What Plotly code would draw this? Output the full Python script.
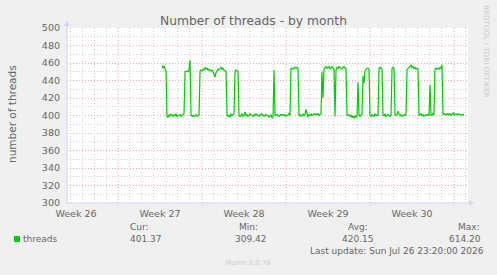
import plotly.graph_objects as go

# ---------------- data ----------------
week_labels = ["Week 26", "Week 27", "Week 28", "Week 29", "Week 30"]
week_label_day = [0.75, 7.75, 14.75, 21.75, 28.75]      # centre of each week (days from left edge)
week_start_day = [4.25, 11.25, 18.25, 25.25, 32.25]     # week boundaries
axis_days = 33.42
y_ticks = [300, 320, 340, 360, 380, 400, 420, 440, 460, 480, 500]

start_day = 7.92          # first sample
step_hours = 2.0          # RRD month resolution

threads = (
    [457, 454, 457, 452, 450]
    + [399, 398, 401, 399, 402, 400, 399, 401, 400, 402, 399, 400, 400, 401, 399, 400, 401, 402]
    + [450, 451, 451, 450, 452, 463]
    + [401, 399, 400, 399, 400, 401, 399, 400, 401]
    + [450, 452, 451, 453, 452, 455, 453, 454, 452, 453, 451, 452, 452, 450, 447, 444, 449, 451,
       453, 452, 454, 455, 453, 454, 452, 451, 450]
    + [401, 399, 400, 398, 402, 400, 401, 402]
    + [450, 452, 451, 450]
    + [400, 399, 400, 402, 399, 400, 404, 400, 401, 399, 400, 402, 401, 400, 399, 401, 400, 402,
       401, 400, 399, 401, 400, 402, 400, 399, 400, 401, 400, 400, 398, 400, 401, 397]
    + [399, 452, 401]
    + [400, 401, 400, 399, 400, 401, 400, 401, 400, 401, 399, 400, 401, 402, 400]
    + [454, 454, 453, 454, 455, 454, 455, 454]
    + [400, 401, 399, 400, 402, 400, 401, 407, 401, 398, 401, 400, 402, 400, 401, 402, 401, 402,
       401, 402, 400, 401, 402]
    + [450, 420, 453, 455, 456, 454, 455, 456, 453, 455, 456, 454, 453]
    + [399]
    + [452, 455, 454, 456, 455, 454, 453, 455, 456, 454, 454]
    + [401, 400, 401, 399, 400, 398, 399, 397, 400, 398, 399]
    + [438]
    + [401, 399, 400, 401]
    + [445, 437, 451, 453, 454, 454, 453]
    + [400, 399, 401, 400, 399, 402, 400, 401, 400]
    + [454, 455, 454, 453]
    + [401, 400, 402, 399, 400, 401, 400, 399, 400]
    + [454, 455, 454]
    + [401, 400, 401, 405, 402, 400, 401, 399, 400, 401, 400, 401]
    + [452, 454, 455, 456, 458, 455, 456, 454, 455, 453, 454, 453]
    + [400, 401, 402, 400, 401, 399, 400, 401, 400, 401, 400]
    + [435]
    + [401, 400, 403, 401]
    + [453, 454, 453, 454, 453, 455, 454, 458]
    + [401, 402, 401, 402, 401, 402, 401, 402, 400, 401, 403, 401, 402, 401, 402, 401, 402, 401,
       400, 401, 401, 401]
)

legend_name = "threads"
stats_labels = ["Cur:", "Min:", "Avg:", "Max:"]
stats_values = ["401.37", "309.42", "420.15", "614.20"]
title = "Number of threads - by month"
y_title = "number of threads"
last_update = "Last update: Sun Jul 26 23:20:00 2026"
footer = "Munin 2.0.76"
watermark = "RRDTOOL / TOBI OETIKER"

# ---------------- styling / layout ----------------
W, H = 497, 275
L, R, T, B = 67, 468, 28, 203
FONT = "DejaVu Sans"
TXT = "#666666"
AXIS = "#CFD6F8"
GREEN = "#00CC00"
MGRID = "#EBA6A6"
GRID = "#CFCFCF"
DASH = "1px,2px"


def px(x):
    return (x - L) / (R - L)


def py(y):
    return (B - y) / (B - T)


days = [start_day + i * step_hours / 24.0 for i in range(len(threads))]

fig = go.Figure()
fig.add_trace(go.Scatter(x=days, y=threads, mode="lines",
                         line=dict(color=GREEN, width=1.2), hoverinfo="skip"))

minor_days = [d + 0.25 for d in range(0, 34) if (d + 0.25) not in week_start_day and d + 0.25 < axis_days]

fig.update_layout(
    width=W, height=H, autosize=False,
    margin=dict(l=L, r=W - R, t=T, b=H - B, pad=0),
    paper_bgcolor="#F0F0F0", plot_bgcolor="#FFFFFF",
    showlegend=False,
    font=dict(family=FONT, size=9, color=TXT),
    xaxis=dict(range=[0, axis_days], tickmode="array", tickvals=week_label_day, ticktext=week_labels,
               showgrid=False, zeroline=False, showline=False, ticks="", ticklabelstandoff=3,
               tickfont=dict(size=9.5, color=TXT),
               minor=dict(tickmode="array", tickvals=minor_days, showgrid=True,
                          gridcolor=GRID, griddash=DASH, gridwidth=1, ticks="")),
    yaxis=dict(range=[300, 500], tickmode="array", tickvals=y_ticks, ticktext=[str(v) for v in y_ticks],
               showgrid=True, gridcolor=MGRID, griddash=DASH, gridwidth=1,
               zeroline=False, showline=False, ticks="", ticklabelstandoff=6,
               tickfont=dict(size=9.5, color=TXT),
               minor=dict(dtick=10, tick0=300, showgrid=True, gridcolor=GRID, griddash=DASH,
                          gridwidth=1, ticks="")),
)

shapes = []
for d in week_start_day:
    shapes.append(dict(type="line", xref="x", yref="paper", x0=d, x1=d, y0=-3 / (B - T), y1=1,
                       line=dict(color=MGRID, width=1, dash=DASH), layer="below"))
# axes with arrows
shapes.append(dict(type="line", xref="paper", yref="paper", x0=px(L), x1=px(471), y0=0, y1=0,
                   line=dict(color=AXIS, width=1)))
shapes.append(dict(type="line", xref="paper", yref="paper", x0=0, x1=0, y0=0, y1=py(24),
                   line=dict(color=AXIS, width=1)))
shapes.append(dict(type="path", xref="paper", yref="paper",
                   path=f"M {px(469)},{py(200)} L {px(474)},{py(203)} L {px(469)},{py(206)} Z",
                   fillcolor=AXIS, line=dict(color=AXIS, width=0)))
shapes.append(dict(type="path", xref="paper", yref="paper",
                   path=f"M {px(64)},{py(26)} L {px(67)},{py(20)} L {px(70)},{py(26)} Z",
                   fillcolor=AXIS, line=dict(color=AXIS, width=0)))
# legend swatch
shapes.append(dict(type="rect", xref="paper", yref="paper", x0=px(14), x1=px(20), y0=py(242), y1=py(236),
                   fillcolor=GREEN, line=dict(width=0)))
fig.update_layout(shapes=shapes)

ann = []


def text(x, y, s, size=9, color=TXT, xanchor="left", angle=0):
    ann.append(dict(xref="paper", yref="paper", x=px(x), y=py(y), text=s, showarrow=False,
                    xanchor=xanchor, yanchor="middle", textangle=angle,
                    font=dict(family=FONT, size=size, color=color)))


text(253, 21, title, size=12.3, xanchor="center")
text(12, 114, y_title, size=10.5, xanchor="center", angle=-90)
text(487, 51, watermark, size=7.2, color="#CCCCCC", xanchor="center", angle=90)
text(20.5, 239, legend_name)
stat_label_x = [128, 236.7, 346, 456]
stat_value_x = [128, 233.3, 340, 446.7]
for lx, vx, lab, val in zip(stat_label_x, stat_value_x, stats_labels, stats_values):
    text(lx, 227, lab)
    text(vx, 239, val)
text(307.7, 251, last_update)
text(248, 263, footer, size=7, color="#CCCCCC", xanchor="center")
fig.update_layout(annotations=ann)

fig.write_html("out.html")
